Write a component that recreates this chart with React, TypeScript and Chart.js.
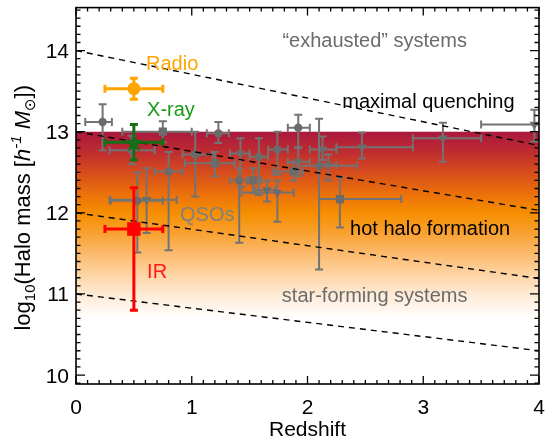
import React, { useEffect, useRef } from "react";
import { Chart, registerables } from "chart.js";
Chart.register(...registerables);

const FONT = "'Liberation Sans', Arial, Helvetica, sans-serif";

// Axis ranges / ticks
const zRange = [0, 4];
const mRange = [9.89, 14.53];

// QSO clustering measurements (gray)
const qsoZ = [0.23, 0.75, 0.48, 1.03, 0.80, 1.20, 1.23, 0.61, 0.53, 1.42, 1.58, 1.41, 1.53, 1.74, 1.74, 1.65, 1.92, 2.10, 2.13, 2.18, 1.92, 1.88, 2.28, 2.47, 3.17, 3.96];
const qsoM = [13.12, 13.00, 12.77, 12.72, 12.51, 12.61, 12.98, 12.16, 12.15, 12.73, 12.69, 12.40, 12.40, 12.78, 12.25, 12.28, 13.05, 12.58, 12.78, 12.59, 12.63, 12.51, 12.17, 12.81, 12.92, 13.09];
const qsoZLo = [0.08, 0.40, 0.29, 0.92, 0.68, 0.94, 1.13, 0.29, 0.30, 1.33, 1.50, 1.33, 1.48, 1.66, 1.43, 1.55, 1.83, 1.92, 2.02, 2.10, 1.83, 1.70, 2.10, 2.25, 2.91, 3.50];
const qsoZHi = [0.31, 1.00, 0.68, 1.18, 0.92, 1.37, 1.32, 0.87, 0.75, 1.50, 1.66, 1.48, 1.60, 1.83, 1.88, 1.72, 2.02, 2.43, 2.25, 2.25, 2.02, 1.96, 2.81, 2.91, 3.50, 4.30];
const qsoMLo = [12.77, 12.87, 12.60, 12.20, 11.54, 12.45, 12.86, 11.75, 11.51, 12.32, 12.22, 11.63, 12.24, 12.47, 11.89, 12.14, 12.81, 11.30, 12.65, 12.40, 12.45, 12.40, 11.82, 12.67, 12.63, 12.88];
const qsoMHi = [13.34, 13.13, 12.95, 13.00, 12.75, 12.75, 13.12, 12.55, 12.50, 12.92, 12.92, 12.55, 12.55, 13.00, 12.40, 12.40, 13.21, 13.16, 12.94, 12.72, 12.80, 12.62, 12.44, 12.99, 13.11, 13.27];
const qsoShape = ["c", "s", "c", "c", "c", "s", "c", "t", "c", "t", "c", "c", "s", "c", "t", "t", "c", "c", "t", "t", "t", "s", "s", "t", "t", "t"];

// Radio / X-ray / IR samples
const radioZ = 0.5, radioM = 13.53, radioZErr = 0.25, radioMErr = 0.13;
const xrayZ = 0.5, xrayM = 12.87, xrayZErr = 0.25, xrayMErr = 0.22;
const irZ = 0.5, irM = 11.8, irZErr = 0.25, irMLo = 10.8, irMHi = 12.31;

// Dashed boundaries: value at z=0 and at z=4
const boundaryStart = [14, 13, 12, 11];
const boundaryEnd = [12.83, 12.03, 11.19, 10.3];

// Colour band (halo mass -> colour)
const bandMass = [13.0, 12.75, 12.5, 12.25, 12.0, 11.75, 11.5, 11.25, 11.0, 10.7];
const bandColor = ["#aa183e", "#bf2c30", "#d64c1d", "#ea6e0c", "#f68e00", "#f9a130", "#fcba6c", "#fdd3a2", "#feead4", "#ffffff"];

const notes = [
  { text: "\u201Cexhausted\u201D systems", z: 2.58, m: 14.04, color: "#6b6b6b", align: "center" },
  { text: "Radio", z: 0.605, m: 13.765, color: "#ffa500", align: "left" },
  { text: "X-ray", z: 0.614, m: 13.19, color: "#179b17", align: "left" },
  { text: "maximal quenching", z: 2.3, m: 13.29, color: "#000000", align: "left" },
  { text: "QSOs", z: 0.899, m: 11.9, color: "#808080", align: "left" },
  { text: "hot halo formation", z: 2.368, m: 11.727, color: "#000000", align: "left" },
  { text: "IR", z: 0.614, m: 11.2, color: "#ff1a1a", align: "left" },
  { text: "star-forming systems", z: 2.58, m: 10.9, color: "#6b6b6b", align: "center" },
];

function makeStar(size: number, color: string) {
  const c = document.createElement("canvas");
  c.width = size; c.height = size;
  const g = c.getContext("2d")!;
  const cx = size / 2, cy = size / 2 + 1, R = size / 2 - 0.5, r = R * 0.42;
  g.beginPath();
  for (let i = 0; i < 10; i++) {
    const rad = i % 2 === 0 ? R : r;
    const a = -Math.PI / 2 + (i * Math.PI) / 5;
    const px = cx + rad * Math.cos(a), py = cy + rad * Math.sin(a);
    if (i === 0) g.moveTo(px, py); else g.lineTo(px, py);
  }
  g.closePath();
  g.fillStyle = color;
  g.fill();
  return c;
}

const bandPlugin = {
  id: "band",
  beforeDatasetsDraw(chart: any) {
    const { ctx, chartArea: a, scales } = chart;
    const y = scales.y;
    const yTop = y.getPixelForValue(bandMass[0]);
    const yBot = y.getPixelForValue(bandMass[bandMass.length - 1]);
    const g = ctx.createLinearGradient(0, yTop, 0, yBot);
    bandMass.forEach((m, i) => {
      g.addColorStop((bandMass[0] - m) / (bandMass[0] - bandMass[bandMass.length - 1]), bandColor[i]);
    });
    ctx.save();
    ctx.fillStyle = g;
    ctx.fillRect(a.left, yTop, a.right - a.left, a.bottom - yTop);
    ctx.restore();
  },
};

const errorBarPlugin = {
  id: "errbars",
  beforeDatasetDraw(chart: any, args: any) {
    const ds = chart.data.datasets[args.index];
    const eb = ds.errorBars;
    if (!eb) return;
    const { ctx, chartArea: a, scales } = chart;
    const x = scales.x, y = scales.y;
    ctx.save();
    ctx.beginPath();
    ctx.rect(a.left, a.top, a.right - a.left, a.bottom - a.top);
    ctx.clip();
    ctx.strokeStyle = ds.errColor;
    ctx.lineWidth = ds.errWidth;
    const c = ds.capSize;
    for (const e of eb) {
      const px = x.getPixelForValue(e.x), py = y.getPixelForValue(e.y);
      const x0 = x.getPixelForValue(e.xLo), x1 = x.getPixelForValue(e.xHi);
      const y0 = y.getPixelForValue(e.yLo), y1 = y.getPixelForValue(e.yHi);
      ctx.beginPath();
      ctx.moveTo(x0, py); ctx.lineTo(x1, py);
      ctx.moveTo(px, y0); ctx.lineTo(px, y1);
      ctx.moveTo(x0, py - c); ctx.lineTo(x0, py + c);
      ctx.moveTo(x1, py - c); ctx.lineTo(x1, py + c);
      ctx.moveTo(px - c, y0); ctx.lineTo(px + c, y0);
      ctx.moveTo(px - c, y1); ctx.lineTo(px + c, y1);
      ctx.stroke();
    }
    ctx.restore();
  },
};

function drawYTitle(ctx: CanvasRenderingContext2D, cx: number, cy: number) {
  const big = 22, small = 15;
  const segs = [
    { t: "log", f: `${big}px ${FONT}`, dy: 0 },
    { t: "10", f: `${small}px ${FONT}`, dy: 5 },
    { t: "(Halo mass [", f: `${big}px ${FONT}`, dy: 0 },
    { t: "h", f: `italic ${big}px ${FONT}`, dy: 0 },
    { t: "-1", f: `italic ${small}px ${FONT}`, dy: -9 },
    { t: " ", f: `${big}px ${FONT}`, dy: 0 },
    { t: "M", f: `italic ${big}px ${FONT}`, dy: 0 },
    { t: "\u2299", f: `${small}px 'DejaVu Sans', ${FONT}`, dy: 5 },
    { t: "])", f: `${big}px ${FONT}`, dy: 0 },
  ];
  ctx.save();
  let total = 0;
  const widths = segs.map((s) => { ctx.font = s.f; const w = ctx.measureText(s.t).width; total += w; return w; });
  ctx.translate(cx, cy);
  ctx.rotate(-Math.PI / 2);
  ctx.fillStyle = "#000";
  ctx.textBaseline = "alphabetic";
  ctx.textAlign = "left";
  let xx = -total / 2;
  segs.forEach((s, i) => { ctx.font = s.f; ctx.fillText(s.t, xx, s.dy); xx += widths[i]; });
  ctx.restore();
}

const decorPlugin = {
  id: "decor",
  afterDatasetsDraw(chart: any) {
    const { ctx, chartArea: a, scales } = chart;
    const x = scales.x, y = scales.y;
    ctx.save();
    ctx.strokeStyle = "#000";
    ctx.lineWidth = 1.3;
    // minor / major ticks on all four sides, pointing inward
    ctx.beginPath();
    for (let i = 0; i <= Math.round((zRange[1] - zRange[0]) * 10); i++) {
      const v = zRange[0] + i / 10;
      const px = x.getPixelForValue(v);
      const L = i % 10 === 0 ? 8 : 4;
      ctx.moveTo(px, a.bottom); ctx.lineTo(px, a.bottom - L);
      ctx.moveTo(px, a.top); ctx.lineTo(px, a.top + L);
    }
    for (let i = Math.ceil(mRange[0] * 10); i <= Math.floor(mRange[1] * 10); i++) {
      const py = y.getPixelForValue(i / 10);
      const L = i % 10 === 0 ? 9 : 4.5;
      ctx.moveTo(a.left, py); ctx.lineTo(a.left + L, py);
      ctx.moveTo(a.right, py); ctx.lineTo(a.right - L, py);
    }
    ctx.stroke();
    ctx.lineWidth = 1.6;
    ctx.strokeRect(a.left, a.top, a.right - a.left, a.bottom - a.top);
    // tick labels from the library's ticks
    ctx.fillStyle = "#000";
    ctx.font = `21px ${FONT}`;
    ctx.textBaseline = "alphabetic";
    ctx.textAlign = "center";
    for (const t of x.ticks) {
      ctx.fillText(String(t.value), x.getPixelForValue(t.value), a.bottom + 30);
    }
    ctx.textAlign = "right";
    for (const t of y.ticks) {
      ctx.fillText(String(t.value), a.left - 7, y.getPixelForValue(t.value) + 7.5);
    }
    // annotations
    ctx.font = `20px ${FONT}`;
    for (const n of notes) {
      ctx.fillStyle = n.color;
      ctx.textAlign = n.align as CanvasTextAlign;
      ctx.fillText(n.text, x.getPixelForValue(n.z), y.getPixelForValue(n.m));
    }
    // x title
    ctx.fillStyle = "#000";
    ctx.font = `21px ${FONT}`;
    ctx.textAlign = "center";
    ctx.fillText("Redshift", (a.left + a.right) / 2, 436);
    ctx.restore();
    drawYTitle(ctx, 30, (a.top + a.bottom) / 2 + 12);
  },
};

export default function App() {
  const ref = useRef<HTMLCanvasElement>(null);
  useEffect(() => {
    const canvas = ref.current!;
    Chart.defaults.font.family = FONT;
    const star = makeStar(21, "#166e16");

    const shapeStyle: any = {
      c: { pointStyle: "circle", pointRadius: 4.2, pointRotation: 0 },
      s: { pointStyle: "rect", pointRadius: 5.8, pointRotation: 0 },
      t: { pointStyle: "triangle", pointRadius: 5.5, pointRotation: 180 },
    };
    const grayDatasets = ["c", "s", "t"].map((sh) => {
      const idx = qsoShape.map((s, i) => (s === sh ? i : -1)).filter((i) => i >= 0);
      return {
        type: "scatter",
        data: idx.map((i) => ({ x: qsoZ[i], y: qsoM[i] })),
        errorBars: idx.map((i) => ({ x: qsoZ[i], y: qsoM[i], xLo: qsoZLo[i], xHi: qsoZHi[i], yLo: qsoMLo[i], yHi: qsoMHi[i] })),
        errColor: "#737373", errWidth: 2, capSize: 4,
        backgroundColor: "#6b6b6b", borderColor: "#6b6b6b", borderWidth: 0,
        ...shapeStyle[sh],
        order: 5,
      };
    });

    const lineDatasets = boundaryStart.map((m0, i) => ({
      type: "scatter",
      showLine: true,
      data: [{ x: zRange[0], y: m0 }, { x: zRange[1], y: boundaryEnd[i] }],
      borderColor: "#000", borderWidth: 1.4, borderDash: [6, 5],
      pointRadius: 0, order: 4,
    }));

    const special = [
      {
        type: "scatter",
        data: [{ x: radioZ, y: radioM }],
        errorBars: [{ x: radioZ, y: radioM, xLo: radioZ - radioZErr, xHi: radioZ + radioZErr, yLo: radioM - radioMErr, yHi: radioM + radioMErr }],
        errColor: "#ffa500", errWidth: 3, capSize: 4,
        pointStyle: "circle", pointRadius: 6.5, backgroundColor: "#ffa500", borderWidth: 0, order: 1,
      },
      {
        type: "scatter",
        data: [{ x: xrayZ, y: xrayM }],
        errorBars: [{ x: xrayZ, y: xrayM, xLo: xrayZ - xrayZErr, xHi: xrayZ + xrayZErr, yLo: xrayM - xrayMErr, yHi: xrayM + xrayMErr }],
        errColor: "#166e16", errWidth: 3, capSize: 4,
        pointStyle: star, pointRadius: 10, order: 1,
      },
      {
        type: "scatter",
        data: [{ x: irZ, y: irM }],
        errorBars: [{ x: irZ, y: irM, xLo: irZ - irZErr, xHi: irZ + irZErr, yLo: irMLo, yHi: irMHi }],
        errColor: "#ff0000", errWidth: 3, capSize: 4,
        pointStyle: "rect", pointRadius: 9.5, backgroundColor: "#ff0000", borderWidth: 0, order: 1,
      },
    ];

    const chart = new Chart(canvas, {
      type: "scatter",
      data: { datasets: [...special, ...grayDatasets, ...lineDatasets] as any },
      options: {
        animation: false,
        responsive: false,
        maintainAspectRatio: false,
        layout: { autoPadding: false, padding: { left: 0, right: 6, top: 7.6, bottom: 0 } },
        plugins: { legend: { display: false }, tooltip: { enabled: false } },
        scales: {
          x: {
            type: "linear", min: zRange[0], max: zRange[1],
            grid: { display: false, drawTicks: false }, border: { display: false },
            ticks: { display: false, stepSize: 1, includeBounds: false },
            afterFit: (s: any) => { s.height = 54; },
          },
          y: {
            type: "linear", min: mRange[0], max: mRange[1],
            grid: { display: false, drawTicks: false }, border: { display: false },
            ticks: { display: false, stepSize: 1, includeBounds: false },
            afterFit: (s: any) => { s.width = 76; },
          },
        },
      } as any,
      plugins: [bandPlugin, errorBarPlugin, decorPlugin],
    });
    return () => chart.destroy();
  }, []);
  return (
    <div style={{ position: "fixed", left: 0, top: 0, width: 545, height: 438, background: "#fff" }}>
      <canvas ref={ref} width={545} height={438} style={{ display: "block", width: 545, height: 438 }} />
    </div>
  );
}
